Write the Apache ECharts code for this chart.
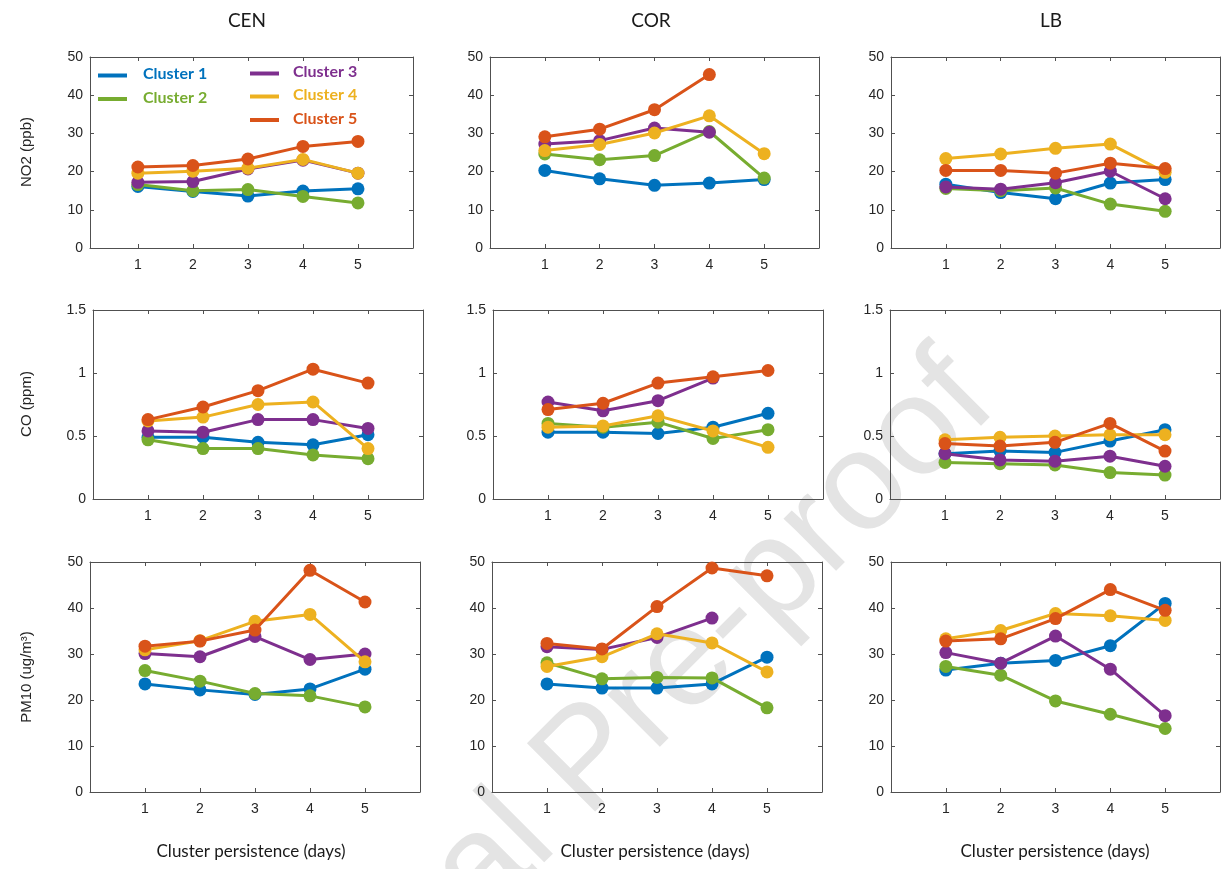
<!DOCTYPE html>
<html>
<head>
<meta charset="utf-8">
<script src="https://cdn.jsdelivr.net/npm/echarts@6/dist/echarts.min.js"></script>
<style>
  html, body { margin: 0; padding: 0; background: #fff; }
  #chart { width: 1223px; height: 869px; }
</style>
</head>
<body>
<div id="chart"></div>
<script>
// ---------- DATA ----------
const persistence = [1, 2, 3, 4, 5];
const clusterNames = ['Cluster 1', 'Cluster 2', 'Cluster 3', 'Cluster 4', 'Cluster 5'];
const siteNames = ['CEN', 'COR', 'LB'];
const pollutantNames = ['NO2 (ppb)', 'CO (ppm)', 'PM10 (ug/m\u00B3)'];
const no2Ticks = [0, 10, 20, 30, 40, 50];
const coTicks = [0, 0.5, 1, 1.5];
const pm10Ticks = [0, 10, 20, 30, 40, 50];

// each array: Cluster 1..5, values at persistence 1..5
const cenNO2 = [
  [16.1, 14.8, 13.6, 14.9, 15.5],
  [16.6, 15.0, 15.3, 13.5, 11.8],
  [17.2, 17.4, 20.7, 23.0, 19.6],
  [19.6, 20.1, 20.9, 23.2, 19.6],
  [21.2, 21.6, 23.3, 26.6, 27.9]
];
const corNO2 = [
  [20.3, 18.1, 16.4, 17.0, 17.9],
  [24.6, 23.1, 24.2, 30.5, 18.3],
  [27.2, 28.1, 31.4, 30.3, null],
  [25.5, 27.1, 30.1, 34.6, 24.7],
  [29.1, 31.1, 36.2, 45.4, null]
];
const lbNO2 = [
  [16.7, 14.5, 12.9, 17.0, 17.9],
  [15.6, 15.0, 15.7, 11.5, 9.6],
  [16.0, 15.4, 17.1, 20.1, 12.9],
  [23.4, 24.6, 26.1, 27.2, 19.8],
  [20.3, 20.3, 19.6, 22.2, 20.8]
];
const cenCO = [
  [0.49, 0.49, 0.45, 0.43, 0.51],
  [0.47, 0.40, 0.40, 0.35, 0.32],
  [0.54, 0.53, 0.63, 0.63, 0.56],
  [0.62, 0.65, 0.75, 0.77, 0.40],
  [0.63, 0.73, 0.86, 1.03, 0.92]
];
const corCO = [
  [0.53, 0.53, 0.52, 0.57, 0.68],
  [0.60, 0.57, 0.61, 0.48, 0.55],
  [0.77, 0.70, 0.78, 0.96, null],
  [0.57, 0.58, 0.66, 0.54, 0.41],
  [0.71, 0.76, 0.92, 0.97, 1.02]
];
const lbCO = [
  [0.36, 0.38, 0.37, 0.46, 0.55],
  [0.29, 0.28, 0.27, 0.21, 0.19],
  [0.36, 0.31, 0.30, 0.34, 0.26],
  [0.47, 0.49, 0.50, 0.51, 0.51],
  [0.44, 0.42, 0.45, 0.60, 0.38]
];
const cenPM10 = [
  [23.5, 22.2, 21.2, 22.4, 26.7],
  [26.4, 24.1, 21.4, 20.9, 18.5],
  [30.1, 29.4, 33.8, 28.8, 30.0],
  [30.9, 32.9, 37.1, 38.6, 28.3],
  [31.7, 32.8, 35.2, 48.2, 41.3]
];
const corPM10 = [
  [23.5, 22.6, 22.6, 23.5, 29.3],
  [28.1, 24.6, 24.9, 24.8, 18.3],
  [31.6, 31.0, 33.6, 37.8, null],
  [27.3, 29.4, 34.4, 32.4, 26.1],
  [32.3, 31.1, 40.3, 48.7, 47.0]
];
const lbPM10 = [
  [26.5, 28.0, 28.6, 31.8, 41.0],
  [27.3, 25.4, 19.8, 16.9, 13.8],
  [30.3, 28.0, 33.9, 26.7, 16.6],
  [33.3, 35.1, 38.8, 38.3, 37.3],
  [32.8, 33.3, 37.7, 44.0, 39.5]
];

// ---------- LAYOUT / STYLE ----------
const colors = ['#0072BD', '#77AC30', '#7E2F8E', '#EDB120', '#D95319'];
const panelData = [
  [cenNO2, corNO2, lbNO2],
  [cenCO, corCO, lbCO],
  [cenPM10, corPM10, lbPM10]
];
const rowTicks = [no2Ticks, coTicks, pm10Ticks];
const rowBox = [ {top: 57, height: 191}, {top: 310, height: 189}, {top: 562, height: 230} ];
const colBox = [
  [ {left: 90, width: 323, xmin: 0.13}, {left: 490, width: 329, xmin: 0}, {left: 891, width: 329, xmin: 0} ],
  [ {left: 93, width: 330, xmin: 0}, {left: 493, width: 330, xmin: 0}, {left: 890, width: 330, xmin: 0} ],
  [ {left: 90, width: 330, xmin: 0}, {left: 492, width: 330, xmin: 0}, {left: 891, width: 329, xmin: 0} ]
];
const axisColor = '#505050';
const labelColor = '#262626';
const tickFont = 'Liberation Sans, Arial, sans-serif';
const textFont = 'Lato, Open Sans, sans-serif';

const grids = [], xAxes = [], yAxes = [], series = [];
let g = 0;
for (let r = 0; r < 3; r++) {
  const ticks = rowTicks[r];
  const yMin = ticks[0], yMax = ticks[ticks.length - 1], yInt = ticks[1] - ticks[0];
  for (let c = 0; c < 3; c++) {
    const cb = colBox[r][c];
    grids.push({ left: cb.left, top: rowBox[r].top, width: cb.width, height: rowBox[r].height,
                 show: false, containLabel: false });
    const xBase = {
      type: 'value', gridIndex: g, min: cb.xmin, max: 6,
      splitLine: { show: false },
      axisLine: { show: true, onZero: false, lineStyle: { color: axisColor, width: 1 } },
      axisTick: { show: true, inside: true, length: 4, customValues: persistence,
                  lineStyle: { color: axisColor } }
    };
    xAxes.push(Object.assign({}, xBase, {
      position: 'bottom',
      axisLabel: { show: true, customValues: persistence, color: labelColor,
                   fontFamily: tickFont, fontSize: 14, margin: 10 }
    }));
    xAxes.push(Object.assign({}, xBase, { position: 'top', axisLabel: { show: false } }));
    const yBase = {
      type: 'value', gridIndex: g, min: yMin, max: yMax, interval: yInt,
      splitLine: { show: false },
      axisLine: { show: true, onZero: false, lineStyle: { color: axisColor, width: 1 } },
      axisTick: { show: true, inside: true, length: 4, lineStyle: { color: axisColor } }
    };
    yAxes.push(Object.assign({}, yBase, {
      position: 'left',
      axisLabel: { show: true, color: labelColor, fontFamily: tickFont, fontSize: 14, margin: 7 }
    }));
    yAxes.push(Object.assign({}, yBase, { position: 'right', axisLabel: { show: false } }));

    const data = panelData[r][c];
    for (let k = 0; k < 5; k++) {
      series.push({
        type: 'line', name: clusterNames[k],
        xAxisIndex: 2 * g, yAxisIndex: 2 * g,
        data: persistence.map((x, i) => [x, data[k][i]]),
        symbol: 'circle', symbolSize: 13, showSymbol: true,
        lineStyle: { color: colors[k], width: 3 },
        itemStyle: { color: colors[k] },
        z: 3 + k
      });
    }
    g++;
  }
}

// ---------- TEXT / LEGEND GRAPHICS ----------
const graphics = [];
// watermark
graphics.push({
  type: 'text', x: 590, y: 762, rotation: Math.PI / 4, z: -10, silent: true,
  style: { text: 'Journal Pre-proof', fill: '#e4e4e4', font: '140px Liberation Sans, Arial, sans-serif',
           align: 'center', verticalAlign: 'middle' }
});
// column titles and x names
const colCenters = [251, 655, 1055];
for (let c = 0; c < 3; c++) {
  graphics.push({ type: 'text', x: colCenters[c] - 4, y: 21,
    style: { text: siteNames[c], fill: '#1a1a1a', font: '19px ' + textFont, align: 'center', verticalAlign: 'middle' } });
  graphics.push({ type: 'text', x: colCenters[c], y: 852,
    style: { text: 'Cluster persistence (days)', fill: '#1a1a1a', font: '17px ' + textFont, align: 'center', verticalAlign: 'middle' } });
}
// y names
const rowCenters = [152, 404, 677];
for (let r = 0; r < 3; r++) {
  graphics.push({ type: 'text', x: 27, y: rowCenters[r], rotation: Math.PI / 2,
    style: { text: pollutantNames[r], fill: labelColor, font: '15px ' + tickFont, align: 'center', verticalAlign: 'middle' } });
}
// legend
const legPos = [
  { lx: 98, ly: 75.5, tx: 143, ty: 74 },
  { lx: 98, ly: 99, tx: 143, ty: 97.5 },
  { lx: 250, ly: 73.5, tx: 293, ty: 71.5 },
  { lx: 250, ly: 96.5, tx: 293, ty: 95 },
  { lx: 250, ly: 120, tx: 293, ty: 118.5 }
];
for (let k = 0; k < 5; k++) {
  const p = legPos[k];
  graphics.push({ type: 'line', z: 20, shape: { x1: p.lx, y1: p.ly, x2: p.lx + 29, y2: p.ly },
    style: { stroke: colors[k], lineWidth: 4 } });
  graphics.push({ type: 'text', x: p.tx, y: p.ty, z: 20,
    style: { text: clusterNames[k], fill: colors[k], font: 'bold 16px ' + textFont, align: 'left', verticalAlign: 'middle' } });
}

const chart = echarts.init(document.getElementById('chart'), null, { renderer: 'canvas' });
chart.setOption({
  backgroundColor: '#ffffff',
  animation: false,
  grid: grids,
  xAxis: xAxes,
  yAxis: yAxes,
  series: series,
  graphic: graphics
});
</script>
</body>
</html>
